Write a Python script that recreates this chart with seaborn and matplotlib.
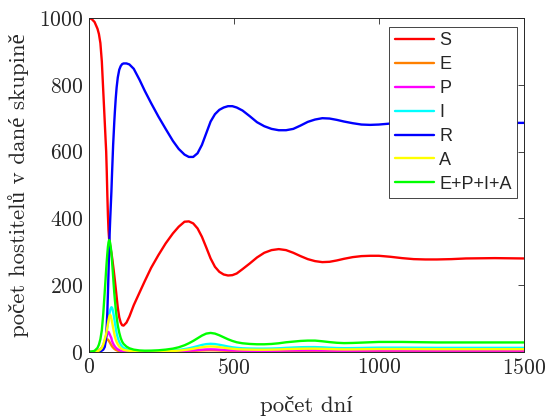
import matplotlib
matplotlib.use("Agg")
import matplotlib.pyplot as plt
import seaborn as sns
import pandas as pd

t = [0, 10, 20, 30, 35, 40, 45, 50, 55, 58, 60, 62, 64, 66, 68, 70, 72, 74, 76, 78, 80,
     82, 84, 86, 88, 90, 93, 96, 100, 105, 110, 115, 120, 130,
     140, 155, 175, 193, 215, 240, 265, 290, 310, 330, 345, 360, 375, 390, 405, 420, 435,
     450, 465, 480, 495, 510, 530, 555, 580, 605, 630, 655, 680, 705, 730, 755, 780, 805,
     830, 855, 880, 910, 940, 970, 1000, 1040, 1080, 1120, 1160, 1200, 1250, 1300, 1400, 1500]

S = [1000, 997, 988, 968, 952, 925, 870, 780, 690, 635, 600, 540, 470, 410, 365, 340, 326,
     316, 306, 296, 285, 272, 258, 244, 229, 214, 190, 165, 133, 104, 88, 80, 79, 88,
     106, 140, 178, 212, 252, 290, 325, 355, 375, 390, 391, 385, 370, 345, 313, 280, 255,
     240, 232, 229, 230, 235, 248, 265, 283, 297, 305, 308, 305, 297, 287, 278, 272, 269,
     270, 274, 279, 284, 287, 288, 288, 285, 281, 278, 277, 277, 278, 280, 281, 280]
E = [0, 0.3, 1.2, 3.5, 5, 8, 13, 20, 28, 32, 34, 37, 38, 37, 35, 32, 29, 26, 23, 20, 17,
     15, 13, 11, 9.5, 8, 6.3, 5, 3.6, 2.4, 1.6, 1.1, 0.8, 0.6,
     0.5, 0.3, 0.2, 0.2, 0.3, 0.5, 0.7, 1.1, 1.5, 2.1, 2.6, 3.2, 3.8, 4.4, 4.9, 5.1, 4.9,
     4.4, 3.9, 3.4, 3, 2.7, 2.4, 2.2, 2.2, 2.2, 2.3, 2.5, 2.8, 3, 3.1, 3.2, 3.1, 3,
     2.8, 2.6, 2.5, 2.5, 2.6, 2.7, 2.8, 2.8, 2.8, 2.8, 2.7, 2.7, 2.7, 2.7, 2.7, 2.7]
P = [0, 0.2, 0.8, 2.5, 4, 7, 11, 18, 28, 34, 41, 48, 55, 60, 60, 57, 53, 49, 45, 41, 33,
     29, 25, 22, 19, 16.5, 13, 10.5, 8, 5.5, 4, 2.8, 2, 1.2,
     1, 0.6, 0.4, 0.4, 0.5, 0.7, 1, 1.5, 2.1, 3, 3.8, 4.8, 5.8, 6.8, 7.6, 7.9, 7.6,
     6.9, 6.1, 5.3, 4.6, 4.1, 3.7, 3.4, 3.3, 3.3, 3.5, 3.8, 4.2, 4.5, 4.7, 4.8, 4.7, 4.4,
     4.1, 3.8, 3.7, 3.8, 3.9, 4.1, 4.2, 4.2, 4.2, 4.1, 4, 4, 4, 4, 4, 4]
I = [0, 0.1, 0.5, 1.5, 3, 6, 11, 20, 35, 44, 52, 62, 73, 85, 97, 108, 118, 126, 131, 134,
     133, 128, 120, 110, 99, 88, 72, 56, 42, 30, 22, 16, 12, 8,
     6, 3.8, 2.2, 1.6, 1.7, 2.2, 3, 4.3, 6, 8.6, 11, 14, 17.5, 21, 23.5, 24.5, 23.7,
     21.5, 19, 16.3, 14, 12.5, 11, 10.3, 10, 10, 10.3, 11, 12.3, 13.3, 14.2, 14.6, 14.6, 13.8,
     12.7, 11.8, 11.4, 11.6, 12, 12.5, 12.9, 12.9, 12.9, 12.7, 12.5, 12.3, 12.3, 12.3, 12.3, 12.3]
R = [0, 0, 0.2, 0.8, 1.5, 2.5, 4, 7, 15, 30, 50, 80, 120, 175, 235, 300, 355, 400, 440,
     480, 530, 575, 620, 655, 690, 720, 760, 792, 822, 845, 856, 862, 864, 864,
     861, 848, 815, 782, 745, 705, 668, 632, 608, 591, 584, 584, 595, 620, 655, 690, 712,
     725, 732, 736, 736, 732, 723, 706, 688, 676, 668, 664, 664, 668, 678, 689, 696, 700,
     699, 695, 690, 685, 681, 680, 681, 684, 687, 689, 689, 688, 687, 686, 686, 686]
A = [0, 0.2, 0.8, 2.5, 4, 7, 12, 22, 38, 47, 55, 64, 74, 85, 95, 103, 109, 111, 107, 100,
     91, 82, 72, 63, 54, 46, 37, 30, 23, 16, 11.5, 8.5, 6.5, 4.5,
     3.5, 2.3, 1.3, 1, 1.1, 1.4, 2, 2.9, 4, 5.8, 7.5, 9.6, 12, 14.2, 16, 16.5, 16,
     14.5, 12.8, 11, 9.6, 8.4, 7.5, 7, 6.7, 6.7, 7, 7.5, 8.4, 9, 9.6, 9.9, 9.9, 9.3,
     8.6, 8, 7.7, 7.8, 8.1, 8.4, 8.7, 8.7, 8.7, 8.6, 8.4, 8.3, 8.3, 8.3, 8.3, 8.3]
G = [0, 1, 3.5, 12, 22, 38, 65, 115, 180, 220, 248, 272, 295, 315, 328, 335, 333, 325,
     312, 298, 275, 250, 225, 200, 176, 156, 128, 105, 80, 58, 42, 31, 24, 16,
     11, 7, 4.5, 3.8, 4, 5, 7, 10, 14, 20, 26, 33, 41, 49, 55, 57, 55,
     50, 44, 38, 33, 29, 26, 24, 23, 23, 24, 26, 29, 31, 33, 34, 34, 32,
     29.5, 27.5, 26.5, 27, 28, 29, 30, 30, 30, 29.5, 29, 28.5, 28.5, 28.5, 28.5, 28.5]

names = ["S", "E", "P", "I", "R", "A", "E+P+I+A"]
series = [S, E, P, I, R, A, G]
colors = ["#ff0000", "#ff8000", "#ff00ff", "#00ffff", "#0000ff", "#ffff00", "#00ff00"]

df = pd.concat([pd.DataFrame({"t": t, "v": s, "name": n}) for n, s in zip(names, series)],
               ignore_index=True)

sns.set_style("white")
plt.rcParams["font.family"] = ["cmr10", "Liberation Serif"]
plt.rcParams["axes.formatter.use_mathtext"] = True

fig = plt.figure(figsize=(5.48, 4.19), dpi=100)
ax = fig.add_axes([0.162, 0.160, 0.794, 0.797])

sns.lineplot(data=df, x="t", y="v", hue="name", hue_order=names,
             palette=dict(zip(names, colors)), linewidth=1.7, ax=ax, sort=False)

ax.set_xlim(0, 1500)
ax.set_ylim(0, 1000)
ax.set_xticks([0, 500, 1000, 1500])
ax.set_yticks([0, 200, 400, 600, 800, 1000])
ax.tick_params(direction="in", length=4, width=0.6, colors="#262626", labelsize=15.5,
               top=True, right=True, pad=4)
for sp in ax.spines.values():
    sp.set_visible(True)
    sp.set_color("#262626")
    sp.set_linewidth(0.7)

ax.set_xlabel("počet dní", fontsize=16.5, color="#262626", labelpad=13)
ax.set_ylabel("počet hostitelů v dané skupině", fontsize=16.5, color="#262626", labelpad=7)

leg = ax.legend(loc="upper right", bbox_to_anchor=(0.984, 0.973), frameon=True,
                fancybox=False, edgecolor="#262626", framealpha=1,
                prop={"family": "Liberation Sans", "size": 13},
                handlelength=2.2, handletextpad=0.25, labelspacing=0.38, borderpad=0.3,
                borderaxespad=0)
leg.get_frame().set_linewidth(0.6)

fig.savefig("out.png", dpi=100)
